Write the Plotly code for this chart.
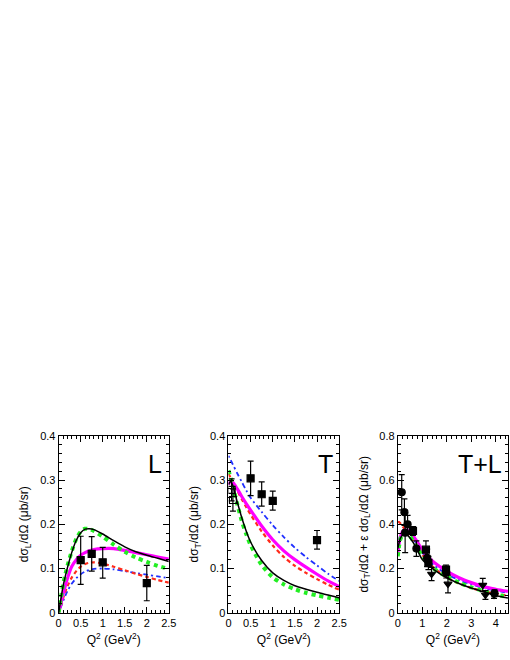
import plotly.graph_objects as go

# ---- L panel ----
x_L = [0, 0.05, 0.1, 0.15, 0.2, 0.3, 0.4, 0.5, 0.6, 0.7, 0.8, 1.0, 1.25, 1.5, 1.75, 2.0, 2.25, 2.5]
L_black = [0, 0.03, 0.06, 0.082, 0.102, 0.137, 0.164, 0.181, 0.189, 0.19, 0.188, 0.178, 0.163, 0.149, 0.138, 0.13, 0.123, 0.116]
L_green = [0, 0.033, 0.063, 0.086, 0.106, 0.14, 0.167, 0.183, 0.19, 0.189, 0.185, 0.172, 0.154, 0.138, 0.125, 0.115, 0.106, 0.099]
L_magenta = [0, 0.02, 0.042, 0.06, 0.078, 0.105, 0.12, 0.13, 0.136, 0.14, 0.143, 0.145, 0.145, 0.141, 0.136, 0.131, 0.126, 0.121]
L_red = [0, 0.015, 0.032, 0.047, 0.06, 0.08, 0.094, 0.104, 0.11, 0.113, 0.114, 0.111, 0.104, 0.096, 0.088, 0.081, 0.074, 0.068]
L_blue = [0, 0.012, 0.026, 0.038, 0.049, 0.066, 0.078, 0.087, 0.093, 0.097, 0.099, 0.1, 0.098, 0.094, 0.09, 0.086, 0.082, 0.078]

L_data_x = [0.5, 0.75, 1.0, 2.0]
L_data_y = [0.119, 0.133, 0.114, 0.067]
L_data_up = [0.054, 0.039, 0.034, 0.04]
L_data_dn = [0.055, 0.039, 0.036, 0.04]

# ---- T panel ----
x_T = [0, 0.05, 0.1, 0.2, 0.3, 0.4, 0.5, 0.75, 1.0, 1.25, 1.5, 1.75, 2.0, 2.25, 2.5]
T_black = [0.29, 0.297, 0.287, 0.25, 0.215, 0.185, 0.16, 0.118, 0.09, 0.073, 0.061, 0.053, 0.046, 0.04, 0.034]
T_green = [0.322, 0.305, 0.285, 0.245, 0.208, 0.178, 0.153, 0.108, 0.08, 0.064, 0.053, 0.045, 0.039, 0.034, 0.029]
T_magenta = [0.29, 0.298, 0.295, 0.28, 0.263, 0.247, 0.232, 0.196, 0.165, 0.14, 0.12, 0.103, 0.087, 0.072, 0.059]
T_red = [0.315, 0.305, 0.295, 0.276, 0.257, 0.239, 0.222, 0.184, 0.152, 0.126, 0.106, 0.09, 0.076, 0.063, 0.052]
T_blue = [0.355, 0.345, 0.335, 0.315, 0.296, 0.277, 0.26, 0.228, 0.198, 0.171, 0.147, 0.126, 0.107, 0.088, 0.072]

T_data_x = [0.5, 0.75, 1.0, 2.0]
T_data_y = [0.304, 0.268, 0.253, 0.164]
T_data_up = [0.039, 0.028, 0.022, 0.022]
T_data_dn = [0.039, 0.027, 0.021, 0.02]
T_open_x = [0.07, 0.1]
T_open_y = [0.278, 0.255]
T_open_err = [0.025, 0.025]

# ---- T+L panel ----
x_TL = [0, 0.05, 0.1, 0.2, 0.3, 0.4, 0.5, 0.75, 1.0, 1.25, 1.5, 2.0, 2.5, 3.0, 3.5, 4.0, 4.5]
TL_black = [0.29, 0.315, 0.335, 0.352, 0.356, 0.35, 0.338, 0.295, 0.24, 0.215, 0.193, 0.158, 0.132, 0.112, 0.095, 0.078, 0.066]
TL_green = [0.255, 0.3, 0.33, 0.355, 0.36, 0.355, 0.345, 0.305, 0.255, 0.222, 0.197, 0.163, 0.136, 0.115, 0.098, 0.083, 0.07]
TL_blue = [0.3, 0.33, 0.35, 0.365, 0.368, 0.362, 0.352, 0.315, 0.272, 0.238, 0.212, 0.175, 0.148, 0.128, 0.112, 0.1, 0.09]
TL_magenta = [0.27, 0.31, 0.34, 0.368, 0.375, 0.372, 0.363, 0.328, 0.285, 0.252, 0.226, 0.188, 0.158, 0.136, 0.118, 0.106, 0.096]
TL_red = [0.41, 0.41, 0.405, 0.39, 0.375, 0.36, 0.345, 0.305, 0.262, 0.228, 0.2, 0.16, 0.132, 0.112, 0.097, 0.086, 0.077]

TL_circ_x = [0.16, 0.27, 0.3, 0.4, 0.76, 1.2, 1.98, 3.95]
TL_circ_y = [0.545, 0.455, 0.362, 0.40, 0.29, 0.248, 0.182, 0.088]
TL_circ_err = [0.08, 0.06, 0.09, 0.04, 0.035, 0.04, 0.025, 0.015]
TL_sq_x = [0.62, 1.15, 1.25, 1.97]
TL_sq_y = [0.37, 0.285, 0.225, 0.195]
TL_sq_err = [0.02, 0.04, 0.03, 0.02]
TL_tri_x = [1.38, 2.05, 3.47, 3.58, 3.93]
TL_tri_y = [0.175, 0.13, 0.125, 0.08, 0.08]
TL_tri_err = [0.03, 0.04, 0.03, 0.02, 0.015]

FONT = "Liberation Sans, Arial, sans-serif"

fig = go.Figure()


def add_curves(xs, black, green, magenta, red, blue, n):
    xa = "x" if n == 1 else "x%d" % n
    ya = "y" if n == 1 else "y%d" % n
    styles = [
        (blue, dict(color="#2030ff", width=1.8, dash="2px,3px,5px,3px")),
        (red, dict(color="#ff2a1a", width=2.2, dash="4px,3px")),
        (magenta, dict(color="#ff00ff", width=3.2)),
        (green, dict(color="#22ee22", width=4, dash="4px,4px")),
        (black, dict(color="black", width=1.5)),
    ]
    for ys, ln in styles:
        fig.add_trace(go.Scatter(x=xs, y=ys, mode="lines", line=dict(shape="spline", smoothing=0.8, **ln),
                                 xaxis=xa, yaxis=ya, hoverinfo="skip"))


def add_points(xs, ys, up, dn, symbol, n):
    xa = "x" if n == 1 else "x%d" % n
    ya = "y" if n == 1 else "y%d" % n
    fig.add_trace(go.Scatter(
        x=xs, y=ys, mode="markers", xaxis=xa, yaxis=ya, hoverinfo="skip",
        marker=dict(symbol=symbol, size=7, color="black", line=dict(color="black", width=1.2)),
        error_y=dict(type="data", symmetric=False, array=up, arrayminus=dn,
                     color="black", thickness=1.2, width=3)))


add_curves(x_L, L_black, L_green, L_magenta, L_red, L_blue, 1)
add_points(L_data_x, L_data_y, L_data_up, L_data_dn, "square", 1)

add_curves(x_T, T_black, T_green, T_magenta, T_red, T_blue, 2)
add_points(T_data_x, T_data_y, T_data_up, T_data_dn, "square", 2)
add_points(T_open_x, T_open_y, T_open_err, T_open_err, "square-open", 2)

add_curves(x_TL, TL_black, TL_green, TL_magenta, TL_red, TL_blue, 3)
add_points(TL_circ_x, TL_circ_y, TL_circ_err, TL_circ_err, "circle", 3)
add_points(TL_sq_x, TL_sq_y, TL_sq_err, TL_sq_err, "square", 3)
add_points(TL_tri_x, TL_tri_y, TL_tri_err, TL_tri_err, "triangle-down", 3)


def axis(domain, rng, dtick, mdtick, anchor, title, standoff):
    return dict(domain=domain, range=rng, dtick=dtick, tick0=0, anchor=anchor, automargin=False,
                showline=True, linecolor="black", linewidth=1, mirror="ticks",
                ticks="inside", ticklen=6, tickwidth=1, tickcolor="black",
                minor=dict(dtick=mdtick, tick0=0, ticks="inside", ticklen=3, tickcolor="black", tickwidth=1),
                showgrid=False, zeroline=False,
                tickfont=dict(size=11, color="black", family=FONT),
                title=dict(text=title, standoff=standoff, font=dict(size=12, color="black", family=FONT)))


xtitle = "Q<sup>2</sup> (GeV<sup>2</sup>)"
ydom = [0.0717, 0.3395]
fig.update_layout(
    width=510, height=660,
    margin=dict(l=0, r=0, t=0, b=0),
    paper_bgcolor="white", plot_bgcolor="white",
    showlegend=False,
    font=dict(family=FONT, color="black"),
    xaxis=axis([0.115, 0.331], [0, 2.5], 0.5, 0.1, "y", xtitle, 7),
    yaxis=axis(ydom, [0, 0.4], 0.1, 0.02, "x", "dσ<sub>L</sub>/dΩ (μb/sr)", 8),
    xaxis2=axis([0.448, 0.665], [0, 2.5], 0.5, 0.1, "y2", xtitle, 7),
    yaxis2=axis(ydom, [0, 0.4], 0.1, 0.02, "x2", "dσ<sub>T</sub>/dΩ (μb/sr)", 8),
    xaxis3=axis([0.780, 0.996], [0, 4.5], 1, 0.2, "y3", xtitle, 7),
    yaxis3=axis(ydom, [0, 0.8], 0.2, 0.04, "x3", "dσ<sub>T</sub>/dΩ + ε dσ<sub>L</sub>/dΩ (μb/sr)", 8),
)

for n, label in [(1, "L"), (2, "T"), (3, "T+L")]:
    xr = "x domain" if n == 1 else "x%d domain" % n
    yr = "y domain" if n == 1 else "y%d domain" % n
    fig.add_annotation(text=label, xref=xr, yref=yr, x=0.96, y=0.93, xanchor="right", yanchor="top",
                       showarrow=False, font=dict(size=25, color="black", family=FONT))

# page body has a default 8px margin and may get scrollbars; remove both so the figure fills the window
page_js = ("document.body.style.margin='0';"
           "document.body.style.overflow='hidden';"
           "document.documentElement.style.overflow='hidden';")
fig.write_html("out.html", config={"displayModeBar": False}, post_script=page_js)
